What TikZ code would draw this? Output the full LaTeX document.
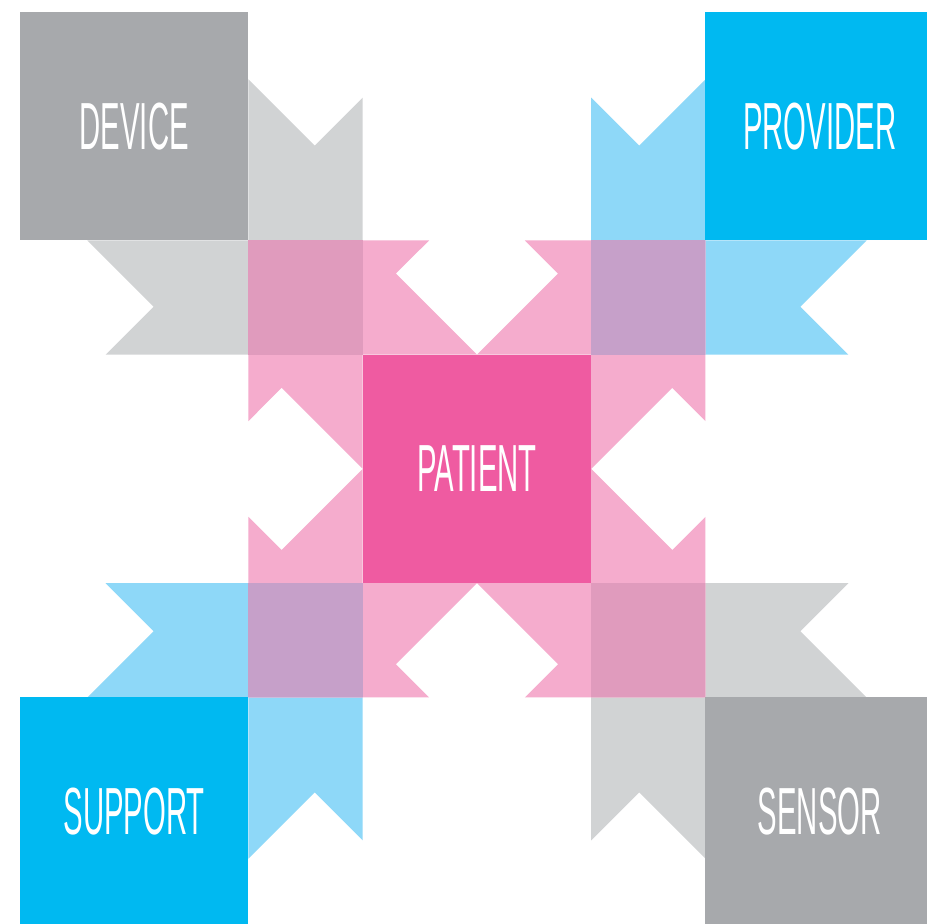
\documentclass[tikz,border=0pt]{standalone}
\usepackage{fontspec}
\newfontfamily\boxfont[FakeStretch=0.44]{Liberation Sans}
\definecolor{devgray}{HTML}{A7A9AC}
\definecolor{ribgray}{HTML}{D1D3D4}
\definecolor{provblue}{HTML}{00B9F1}
\definecolor{ribblue}{HTML}{8ED8F8}
\definecolor{patpink}{HTML}{EF5BA1}
\definecolor{ribpink}{HTML}{F5ACCD}
\definecolor{graypink}{HTML}{E09BBD}
\definecolor{bluepink}{HTML}{C6A0C9}
\begin{document}
\begin{tikzpicture}[box/.style={minimum size=2cm, inner sep=0pt, outer sep=0pt, text=white,
  font=\boxfont\fontsize{16.6}{20}\selectfont}]
\useasboundingbox (-0.175, 0.105) rectangle (7.939, -7.974);
\clip (-0.175, 0.105) rectangle (7.939, -7.974);
\fill[white] (-0.175, 0.105) rectangle (7.939, -7.974);
%%% ribbons of the four corner boxes
\fill[ribgray] (2, -3) -- (2, -0.59) -- (2.58, -1.17) -- (3, -0.75) -- (3, -3) -- cycle;
\fill[ribgray] (3, -2) -- (0.59, -2) -- (1.17, -2.58) -- (0.75, -3) -- (3, -3) -- cycle;
\fill[ribblue] (6, -3) -- (6, -0.59) -- (5.42, -1.17) -- (5, -0.75) -- (5, -3) -- cycle;
\fill[ribblue] (5, -2) -- (7.41, -2) -- (6.83, -2.58) -- (7.25, -3) -- (5, -3) -- cycle;
\fill[ribblue] (2, -5) -- (2, -7.41) -- (2.58, -6.83) -- (3, -7.25) -- (3, -5) -- cycle;
\fill[ribblue] (3, -6) -- (0.59, -6) -- (1.17, -5.42) -- (0.75, -5) -- (3, -5) -- cycle;
\fill[ribgray] (6, -5) -- (6, -7.41) -- (5.42, -6.83) -- (5, -7.25) -- (5, -5) -- cycle;
\fill[ribgray] (5, -6) -- (7.41, -6) -- (6.83, -5.42) -- (7.25, -5) -- (5, -5) -- cycle;
%%% ribbons of the patient box
\fill[ribpink] (2, -2) -- (3.58, -2) -- (3.29, -2.29) -- (4, -3) -- (2, -3) -- cycle;
\fill[ribpink] (2, -2) -- (3, -2) -- (3, -4) -- (2.29, -3.29) -- (2, -3.58) -- cycle;
\fill[ribpink] (6, -2) -- (4.42, -2) -- (4.71, -2.29) -- (4, -3) -- (6, -3) -- cycle;
\fill[ribpink] (6, -2) -- (5, -2) -- (5, -4) -- (5.71, -3.29) -- (6, -3.58) -- cycle;
\fill[ribpink] (2, -6) -- (3.58, -6) -- (3.29, -5.71) -- (4, -5) -- (2, -5) -- cycle;
\fill[ribpink] (2, -6) -- (3, -6) -- (3, -4) -- (2.29, -4.71) -- (2, -4.42) -- cycle;
\fill[ribpink] (6, -6) -- (4.42, -6) -- (4.71, -5.71) -- (4, -5) -- (6, -5) -- cycle;
\fill[ribpink] (6, -6) -- (5, -6) -- (5, -4) -- (5.71, -4.71) -- (6, -4.42) -- cycle;
%%% where the ribbons cross
\fill[graypink] (2, -2) rectangle (3, -3);
\fill[bluepink] (5, -2) rectangle (6, -3);
\fill[bluepink] (2, -5) rectangle (3, -6);
\fill[graypink] (5, -5) rectangle (6, -6);
%
\node[box, fill=devgray] (device) at (1, -1) {DEVICE};
\node[box, fill=provblue] (provider) at (7, -1) {PROVIDER};
\node[box, fill=patpink] (patient) at (4, -4) {PATIENT};
\node[box, fill=provblue] (support) at (1, -7) {SUPPORT};
\node[box, fill=devgray] (sensor) at (7, -7) {SENSOR};
\end{tikzpicture}
\end{document}
